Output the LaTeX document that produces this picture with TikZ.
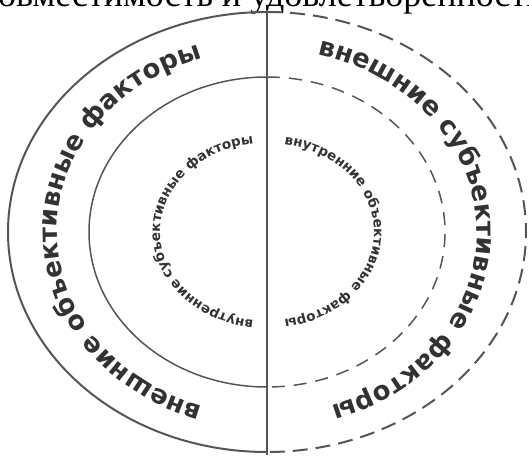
\documentclass[tikz,border=0pt]{standalone}
\usepackage{fontspec}
\setmainfont{Liberation Serif}
\newfontfamily\ringfont{DejaVu Sans}
\usetikzlibrary{decorations.text}
\definecolor{linegray}{RGB}{85,85,85}
\definecolor{textgray}{RGB}{50,50,50}
\newcommand\bigring{\ringfont\bfseries\fontsize{26}{26}\selectfont}
\newcommand\smallring{\ringfont\bfseries\fontsize{13.5}{13.5}\selectfont}
\tikzset{
  ringline/.style={linegray, line width=2pt},
  ringdash/.style={ringline, dash pattern=on 15pt off 8pt},
  ringtext/.style={decorate, decoration={text along path, text align=center,
      text color=textgray, text={#1}}},
}

\begin{document}
\begin{tikzpicture}[x=1pt,y=1pt]
  \useasboundingbox (0,0) rectangle (529,461);
  \clip (0,0) rectangle (529,461);
  % heading, cut by the top edge
  \node[anchor=base west, inner sep=0pt, font=\fontsize{36}{36}\selectfont] (head)
    at (-18,454) {совместимость и удовлетворенность};
  \begin{scope}[shift={(267,229)}]
    % left half: solid rings
    \draw[ringline] (0,220) arc[start angle=90, end angle=270, x radius=259pt, y radius=220pt];
    \draw[ringline, line width=1.5pt] (0,155) arc[start angle=90, end angle=270, x radius=178pt, y radius=155pt];
    % right half: dashed rings
    \draw[ringdash] (0,220) arc[start angle=90, end angle=-90, x radius=259pt, y radius=220pt];
    \draw[ringdash, line width=1.5pt, dash pattern=on 13pt off 9pt] (0,155) arc[start angle=90, end angle=-90, x radius=178pt, y radius=155pt];
    % divider
    \draw[linegray, line width=2.5pt] (0,222) -- (0,-223);
    % labels
    \path[ringtext=|\bigring|внешние объективные факторы]
      (258:210pt and 183pt) arc[start angle=258, end angle=102, x radius=210pt, y radius=183pt];
    \path[ringtext=|\bigring|внешние субъективные факторы]
      (84:210pt and 183pt) arc[start angle=84, end angle=-80, x radius=210pt, y radius=183pt];
    \path[ringtext=|\smallring|внутренние субъективные факторы]
      (268:107pt and 89pt) arc[start angle=268, end angle=92, x radius=107pt, y radius=89pt];
    \path[ringtext=|\smallring|внутренние объективные факторы]
      (88:107pt and 89pt) arc[start angle=88, end angle=-88, x radius=107pt, y radius=89pt];
  \end{scope}
\end{tikzpicture}
\end{document}
